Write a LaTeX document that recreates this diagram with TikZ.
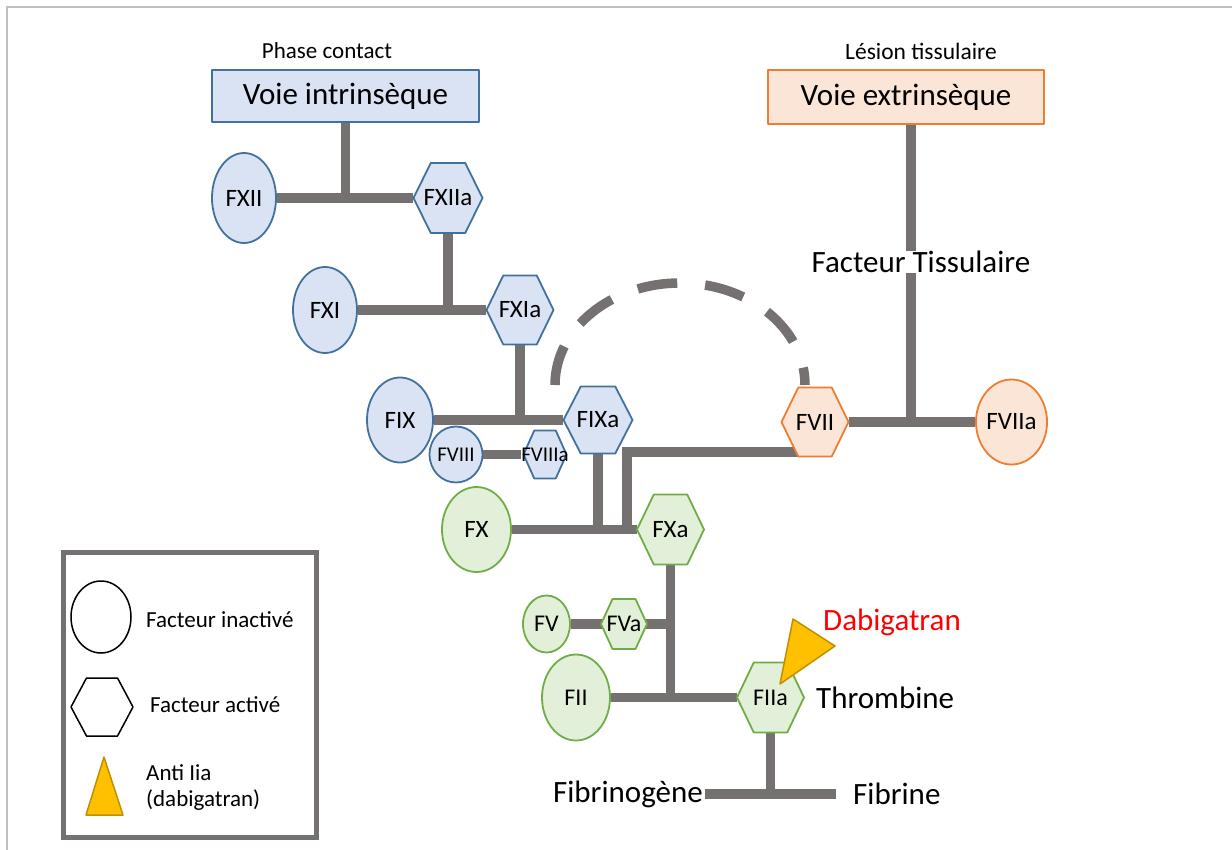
\documentclass[tikz,border=0pt]{standalone}
\usepackage{fontspec}
\setmainfont{Carlito}
\usetikzlibrary{shapes.geometric,calc,backgrounds}
\definecolor{lnk}{HTML}{767171}
\definecolor{bfill}{HTML}{DAE3F3}\definecolor{bdraw}{HTML}{41719C}
\definecolor{ofill}{HTML}{FBE5D6}\definecolor{odraw}{HTML}{ED7D31}
\definecolor{gfill}{HTML}{E2F0D9}\definecolor{gdraw}{HTML}{70AD47}
\definecolor{trifill}{HTML}{FFC000}\definecolor{tridraw}{HTML}{BF9000}
\definecolor{pageline}{HTML}{BFBFBF}
\newcommand\fs[1]{\fontsize{#1}{#1}\selectfont}
\newcommand\hexnode[8]{%
  \path[#6] ({#2-#4},#3) -- ({#2-#4/2},{#3-#5}) -- ({#2+#4/2},{#3-#5}) -- ({#2+#4},#3) -- ({#2+#4/2},{#3+#5}) -- ({#2-#4/2},{#3+#5}) -- cycle;
  \node[inner sep=0pt, minimum width={2*#4 pt}, minimum height={2*#5 pt}, font=\fs{#7}] (#1) at (#2,#3) {#8};
}
\tikzset{
  conn/.style={draw=lnk, line width=9.5pt},
  bstyle/.style={fill=bfill, draw=bdraw, line width=1.8pt, line join=round},
  ostyle/.style={fill=ofill, draw=odraw, line width=1.8pt, line join=round},
  gstyle/.style={fill=gfill, draw=gdraw, line width=1.8pt, line join=round},
  ell/.style={ellipse, inner sep=0pt},
  lbl/.style={inner sep=0pt},
}
\begin{document}
\begin{tikzpicture}[x=1pt,y=-1pt]
\useasboundingbox (0,0) rectangle (1232,850);
% page frame
\draw[pageline, line width=2pt] (7,850) -- (7,7) -- (1232,7);

% header boxes
\node[lbl, font=\fs{23}] (pc) at (327,51) {Phase contact};
\node[lbl, font=\fs{23.5}] (lt) at (921,51) {Lésion tissulaire};
\node[bstyle, line width=1.3pt, minimum width=267pt, minimum height=52pt, inner sep=0pt, font=\fs{31}] (VI) at (345.5,96) {Voie intrinsèque};
\node[ostyle, minimum width=276pt, minimum height=54pt, inner sep=0pt, font=\fs{31}] (VE) at (906,97) {Voie extrinsèque};
\node[lbl, font=\fs{31}] (FT) at (921,262) {Facteur Tissulaire};

% intrinsic
\node[ell, bstyle, minimum width=64pt, minimum height=90pt, font=\fs{25}] (FXII) at (244,198) {FXII};
\hexnode{FXIIa}{448}{198}{34.5}{35}{bstyle}{25}{FXIIa}
\node[ell, bstyle, minimum width=64pt, minimum height=86pt, font=\fs{25}] (FXI) at (325,310) {FXI};
\hexnode{FXIa}{520}{310}{33.5}{34.5}{bstyle}{25}{FXIa}
\node[ell, bstyle, minimum width=66pt, minimum height=85pt, font=\fs{25}] (FIX) at (400,420) {FIX};
\hexnode{FIXa}{598}{420}{34.5}{33.5}{bstyle}{25}{FIXa}
\node[ell, bstyle, minimum width=46pt, minimum height=56pt, font=\fs{21}] (FVIII) at (456,454.5) {FVIII};
\hexnode{FVIIIa}{545}{454.5}{21.5}{24}{bstyle}{21}{FVIIIa}

% extrinsic
\hexnode{FVII}{815}{422}{33.5}{34.5}{ostyle}{25}{FVII}
\node[ell, ostyle, minimum width=69pt, minimum height=85pt, font=\fs{25}] (FVIIa) at (1011.5,422) {FVIIa};

% common
\node[ell, gstyle, minimum width=69pt, minimum height=85pt, font=\fs{25}] (FX) at (476.5,529.5) {FX};
\hexnode{FXa}{670.5}{529.5}{33.5}{35}{gstyle}{25}{FXa}
\node[ell, gstyle, minimum width=47pt, minimum height=57pt, font=\fs{24}] (FV) at (546.5,624) {FV};
\hexnode{FVa}{624}{624}{23}{25}{gstyle}{24}{FVa}
\node[ell, gstyle, minimum width=68pt, minimum height=86pt, font=\fs{24}] (FII) at (576,697.5) {FII};
\hexnode{FIIa}{770.5}{697.5}{33.5}{35}{gstyle}{24}{FIIa}

\node[lbl, anchor=west, font=\fs{31}] (thr) at (816,698) {Thrombine};
\node[lbl, anchor=east, font=\fs{31}] (fbg) at (703,794) {Fibrinogène};
\node[lbl, anchor=west, font=\fs{31}] (fbn) at (853,794) {Fibrine};
\node[lbl, anchor=west, font=\fs{31}, text=red] (dab) at (823,622) {Dabigatran};
\draw[fill=trifill, draw=tridraw, line width=1.5pt, line join=round] (780,684) -- (793,619) -- (835,646) -- cycle;

% dashed feedback arc
\draw[conn, dash pattern=on 40pt off 28pt] (555,385) arc[start angle=180, end angle=360, x radius=125, y radius=102];

% connectors
\begin{pgfonlayer}{background}
\coordinate (j1) at (VI.south |- FXII.east);
\draw[conn] (VI.south) -- (j1);
\draw[conn] (FXII.east) -- (FXIIa.west);
\draw[conn] (FXIIa.south) -- (FXIIa.south |- FXI.east);
\draw[conn] (FXI.east) -- (FXIa.west);
\draw[conn] (FXIa.south) -- (FXIa.south |- FIX.east);
\draw[conn] (FIX.east) -- (FIXa.west);
\draw[conn] (FVIII.east) -- (FVIIIa.west);
\draw[conn] (FIXa.south) -- (FIXa.south |- FX.east);
\draw[conn] (FX.east) -- (FXa.west);
\coordinate (bend) at (627,452);
\draw[conn] ($(FVII.center)+(0,30)$) -- (bend) -- (bend |- FXa.west);
\draw[conn] (FVII.east) -- (FVIIa.west);
\draw[conn] (FT.south -| 911,0) -- (911,422);
\draw[conn] (VE.south -| 911,0) -- (FT.north -| 911,0);
\draw[conn] (FXa.south) -- (FXa.south |- FII.east);
\draw[conn] (FV.east) -- (FXa.south |- FV.east);
\draw[conn] (FII.east) -- (FIIa.west);
\draw[conn] (FIIa.south) -- (FIIa.south |- fbg.east);
\draw[conn] ([xshift=2pt]fbg.east) -- ([xshift=-17pt]fbn.west);
\end{pgfonlayer}

% legend
\draw[lnk, line width=5pt] (63,552) rectangle (316,837);
\node[ell, draw=black, line width=1.5pt, fill=white, minimum width=60pt, minimum height=72pt] (lgE) at (101,617) {};
\node[lbl, anchor=west, font=\fs{23}] (lgEt) at (146,620) {Facteur inactivé};
\hexnode{lgH}{102}{707}{31}{29}{draw=black, line width=1.5pt, line join=round}{22}{}
\node[lbl, anchor=west, font=\fs{23}] (lgHt) at (150,705) {Facteur activé};
\draw[fill=trifill, draw=tridraw, line width=1.5pt, line join=round] (104,757) -- (123,815) -- (86,815) -- cycle;
\node[lbl, anchor=west, font=\fs{23}] (lgT1) at (146,773) {Anti Iia};
\node[lbl, anchor=west, font=\fs{23}] (lgT2) at (146,800) {(dabigatran)};
\end{tikzpicture}
\end{document}
